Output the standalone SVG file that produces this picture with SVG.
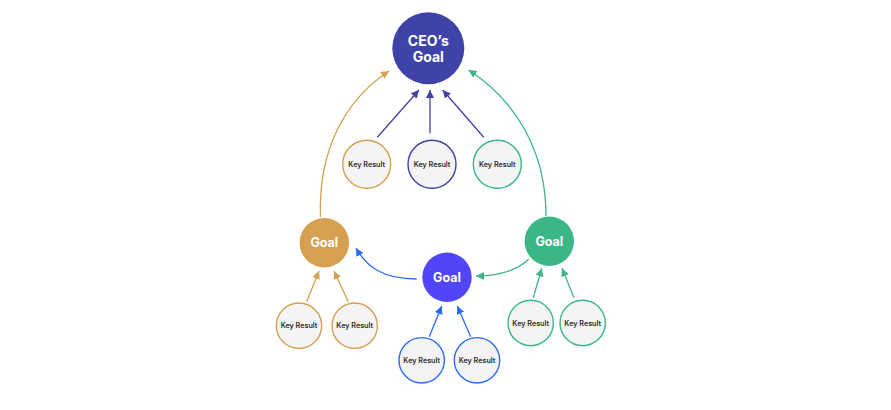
<svg xmlns="http://www.w3.org/2000/svg" width="891" height="410" viewBox="0 0 891 410">
<style>
.kr{fill:#F4F4F4;stroke-width:1.4}
.krt{font-family:Inter,"Liberation Sans",sans-serif;font-size:7.2px;font-weight:600;fill:#2b2b2b;text-anchor:middle}
.gt{font-family:Inter,"Liberation Sans",sans-serif;font-weight:700;fill:#fff;text-anchor:middle}
.c{fill:none;stroke-width:1.3}
</style>
<defs>
<marker id="mi" markerUnits="userSpaceOnUse" markerWidth="9" markerHeight="9" refX="8" refY="4" orient="auto"><path d="M0,0 L8,4 L0,8 z" fill="#3F42A6"/></marker>
<marker id="mo" markerUnits="userSpaceOnUse" markerWidth="9" markerHeight="9" refX="8" refY="4" orient="auto"><path d="M0,0 L8,4 L0,8 z" fill="#D5A04F"/></marker>
<marker id="mg" markerUnits="userSpaceOnUse" markerWidth="9" markerHeight="9" refX="8" refY="4" orient="auto"><path d="M0,0 L8,4 L0,8 z" fill="#3AB785"/></marker>
<marker id="mb" markerUnits="userSpaceOnUse" markerWidth="9" markerHeight="9" refX="8" refY="4" orient="auto"><path d="M0,0 L8,4 L0,8 z" fill="#2A6BF0"/></marker>
</defs>
<rect width="891" height="410" fill="#fff"/>
<g id="connectors">
<path class="c" stroke="#3F42A6" d="M377.3,137.3 L419,90" marker-end="url(#mi)"/>
<path class="c" stroke="#3F42A6" d="M430,133.3 L430,90" marker-end="url(#mi)"/>
<path class="c" stroke="#3F42A6" d="M483.7,137.3 L442.7,90" marker-end="url(#mi)"/>
<path class="c" stroke="#D5A04F" d="M320.5,217 C318,150 345,100 389,71" marker-end="url(#mo)"/>
<path class="c" stroke="#3AB785" d="M546,216 C546,150 515,100 468.5,70" marker-end="url(#mg)"/>
<path class="c" stroke="#D5A04F" d="M306.7,301.7 L319,271" marker-end="url(#mo)"/>
<path class="c" stroke="#D5A04F" d="M348.3,301.7 L334,271" marker-end="url(#mo)"/>
<path class="c" stroke="#2A6BF0" d="M429.3,336.7 L441.7,306" marker-end="url(#mb)"/>
<path class="c" stroke="#2A6BF0" d="M470.7,336.7 L457.3,306" marker-end="url(#mb)"/>
<path class="c" stroke="#3AB785" d="M533.3,297.7 L541.7,268.3" marker-end="url(#mg)"/>
<path class="c" stroke="#3AB785" d="M574,297.7 L562,268.3" marker-end="url(#mg)"/>
<path class="c" stroke="#2A6BF0" d="M416.7,279 C382,279 366,266 356,248" marker-end="url(#mb)"/>
<path class="c" stroke="#3AB785" d="M528.7,259.3 C515,272 497,276 476,276" marker-end="url(#mg)"/>
</g>
<g id="ceo"><circle cx="428.3" cy="48.3" r="36" fill="#3F42A6"/><text class="gt" x="428.3" y="46" font-size="14">CEO’s</text><text class="gt" x="428.3" y="62" font-size="14">Goal</text></g>
<g id="kr-top-1"><circle class="kr" cx="366.7" cy="164.3" r="24" stroke="#D5A04F"/><text class="krt" x="366.7" y="166.8">Key Result</text></g>
<g id="kr-top-2"><circle class="kr" cx="432" cy="164.3" r="24" stroke="#3F42A6"/><text class="krt" x="432" y="166.8">Key Result</text></g>
<g id="kr-top-3"><circle class="kr" cx="497.3" cy="164.3" r="24" stroke="#3AB785"/><text class="krt" x="497.3" y="166.8">Key Result</text></g>
<g id="goal-orange"><circle cx="324.3" cy="242.7" r="24.7" fill="#D5A04F"/><text class="gt" x="324.3" y="247.2" font-size="12.5">Goal</text></g>
<g id="goal-blue"><circle cx="447" cy="277.3" r="24.7" fill="#5046F7"/><text class="gt" x="447" y="281.8" font-size="12.5">Goal</text></g>
<g id="goal-green"><circle cx="549.3" cy="241.3" r="24.7" fill="#3AB785"/><text class="gt" x="549.3" y="245.8" font-size="12.5">Goal</text></g>
<g id="kr-o1"><circle class="kr" cx="299" cy="325.7" r="22.7" stroke="#D5A04F"/><text class="krt" x="299" y="328.2">Key Result</text></g>
<g id="kr-o2"><circle class="kr" cx="354.7" cy="325.7" r="22.7" stroke="#D5A04F"/><text class="krt" x="354.7" y="328.2">Key Result</text></g>
<g id="kr-b1"><circle class="kr" cx="421.7" cy="360.3" r="22.7" stroke="#2A6BF0"/><text class="krt" x="421.7" y="362.8">Key Result</text></g>
<g id="kr-b2"><circle class="kr" cx="477" cy="360.3" r="22.7" stroke="#2A6BF0"/><text class="krt" x="477" y="362.8">Key Result</text></g>
<g id="kr-g1"><circle class="kr" cx="530.7" cy="323" r="22.7" stroke="#3AB785"/><text class="krt" x="530.7" y="325.5">Key Result</text></g>
<g id="kr-g2"><circle class="kr" cx="582.7" cy="323" r="22.7" stroke="#3AB785"/><text class="krt" x="582.7" y="325.5">Key Result</text></g>
</svg>
